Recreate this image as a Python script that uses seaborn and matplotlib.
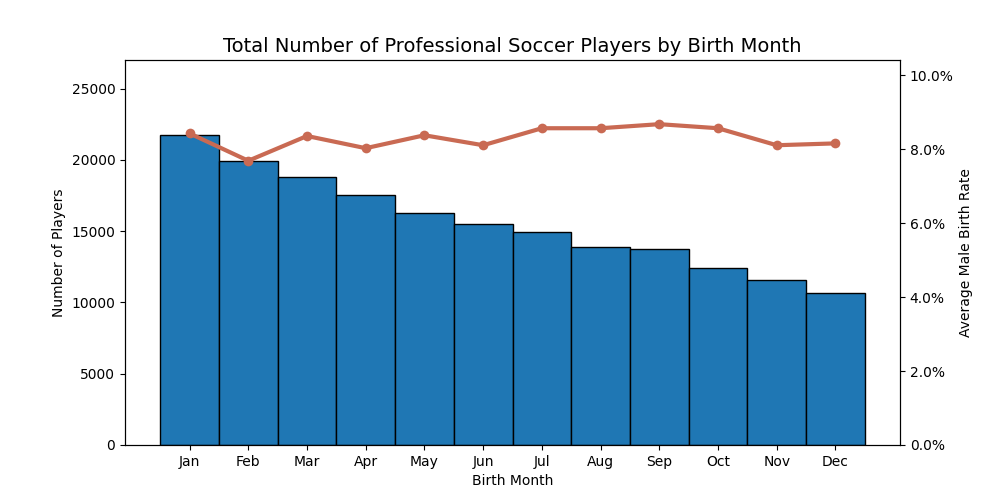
import matplotlib
matplotlib.use("Agg")
import matplotlib.pyplot as plt
import seaborn as sns
import pandas as pd
from matplotlib.ticker import PercentFormatter

months = ["Jan", "Feb", "Mar", "Apr", "May", "Jun", "Jul", "Aug", "Sep", "Oct", "Nov", "Dec"]
players = [21745, 19944, 18781, 17519, 16258, 15487, 14926, 13896, 13735, 12404, 11563, 10673]
birth_rate = [0.0843, 0.0769, 0.0836, 0.0803, 0.0838, 0.0811, 0.0857, 0.0857, 0.0868, 0.0857, 0.0811, 0.0816]

df = pd.DataFrame({"month": months, "players": players, "rate": birth_rate})

fig, ax = plt.subplots(figsize=(10, 5), dpi=100)
ax.bar(df["month"], df["players"], width=1.0, color="#1f77b4", edgecolor="black", linewidth=1)
ax.set_ylim(0, 27000)
ax.set_xlabel("Birth Month")
ax.set_ylabel("Number of Players")
ax.set_title("Total Number of Professional Soccer Players by Birth Month", fontsize=14)

ax2 = ax.twinx()
sns.lineplot(x=list(range(len(months))), y=df["rate"], ax=ax2, color="#c96a53",
             linewidth=3, marker="o", markersize=7, markeredgewidth=0)
ax2.set_ylim(0, max(birth_rate) * 1.2)
ax2.yaxis.set_major_formatter(PercentFormatter(xmax=1, decimals=1))
ax2.set_ylabel("Average Male Birth Rate")

fig.savefig("out.png", dpi=100)
